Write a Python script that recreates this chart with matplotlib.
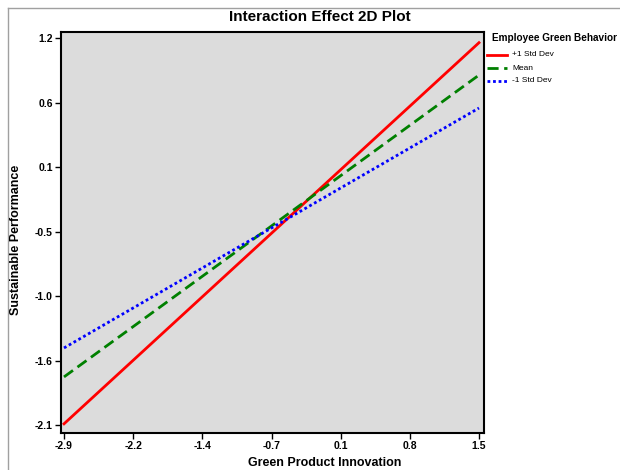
import matplotlib
matplotlib.use("Agg")
import matplotlib.pyplot as plt
from matplotlib.lines import Line2D

plt.rcParams['font.family'] = ['Liberation Sans', 'DejaVu Sans']

# Data
x_range = [-2.9, 1.5]
series_names = ["+1 Std Dev", "Mean", "-1 Std Dev"]
series_values = {
    "+1 Std Dev": [-2.11, 1.14],
    "Mean": [-1.71, 0.864],
    "-1 Std Dev": [-1.463, 0.583],
}
colors = {"+1 Std Dev": "#FF0000", "Mean": "#008000", "-1 Std Dev": "#0000FF"}
styles = {"+1 Std Dev": "-", "Mean": (0, (4, 2)), "-1 Std Dev": (0, (1, 1))}
x_tick_labels = ["-2.9", "-2.2", "-1.4", "-0.7", "0.1", "0.8", "1.5"]
y_tick_labels = ["-2.1", "-1.6", "-1.0", "-0.5", "0.1", "0.6", "1.2"]
x_ticks = [-2.9 + i * 4.4 / 6 for i in range(7)]
y_ticks = [-2.12 + i * 3.30 / 6 for i in range(7)]

W, H = 620, 470
fig = plt.figure(figsize=(W / 100, H / 100), dpi=100)
l, r, t, b = 61, 484, 32, 433
ax = fig.add_axes([l / W, 1 - b / H, (r - l) / W, (b - t) / H])
ax.set_facecolor("#DCDCDC")

for name in series_names:
    ax.plot(x_range, series_values[name], color=colors[name], linestyle=styles[name],
            linewidth=2.0, label=name)

# pixel mapping: x tick -2.9 at px 64, 1.5 at px 479; y tick -2.12 at px 425, 1.18 at px 38
xpp = 4.4 / (479 - 64)
ypp = 3.30 / (425 - 38)
ax.set_xlim(-2.9 - (64 - l) * xpp, 1.5 + (r - 479) * xpp)
ax.set_ylim(-2.12 - (b - 425) * ypp, 1.18 + (38 - t) * ypp)
ax.set_xticks(x_ticks)
ax.set_xticklabels(x_tick_labels)
ax.set_yticks(y_ticks)
ax.set_yticklabels(y_tick_labels)
for lab in ax.get_xticklabels() + ax.get_yticklabels():
    lab.set_fontweight("bold")
    lab.set_fontsize(7.5)
ax.tick_params(direction="out", length=4, width=1, colors="black", pad=2)
for s in ax.spines.values():
    s.set_linewidth(1.5)
    s.set_color("black")

fig.text(320 / W, 1 - 17 / H, "Interaction Effect 2D Plot", ha="center", va="center",
         fontsize=11, fontweight="bold")
fig.text(16 / W, 1 - 240 / H, "Sustainable Performance", ha="center", va="center",
         rotation=90, fontsize=9, fontweight="bold")
fig.text(325 / W, 1 - 463 / H, "Green Product Innovation", ha="center", va="center",
         fontsize=9, fontweight="bold")

# Legend
fig.text(492 / W, 1 - 38 / H, "Employee Green Behavior", ha="left", va="center",
         fontsize=7.2, fontweight="bold")
for i, name in enumerate(series_names):
    yy = 1 - (55 + 13 * i) / H
    fig.add_artist(Line2D([487 / W, 507 / W], [yy, yy], color=colors[name],
                          linestyle=styles[name], linewidth=2.0))
    fig.text(512 / W, yy, name, ha="left", va="center", fontsize=6)

# Outer border (partially visible)
fig.add_artist(Line2D([8 / W, 8 / W], [0, 1 - 8 / H], color="#A0A0A0", linewidth=1))
fig.add_artist(Line2D([8 / W, 1], [1 - 8 / H, 1 - 8 / H], color="#A0A0A0", linewidth=1))

fig.savefig("out.png", dpi=100)
